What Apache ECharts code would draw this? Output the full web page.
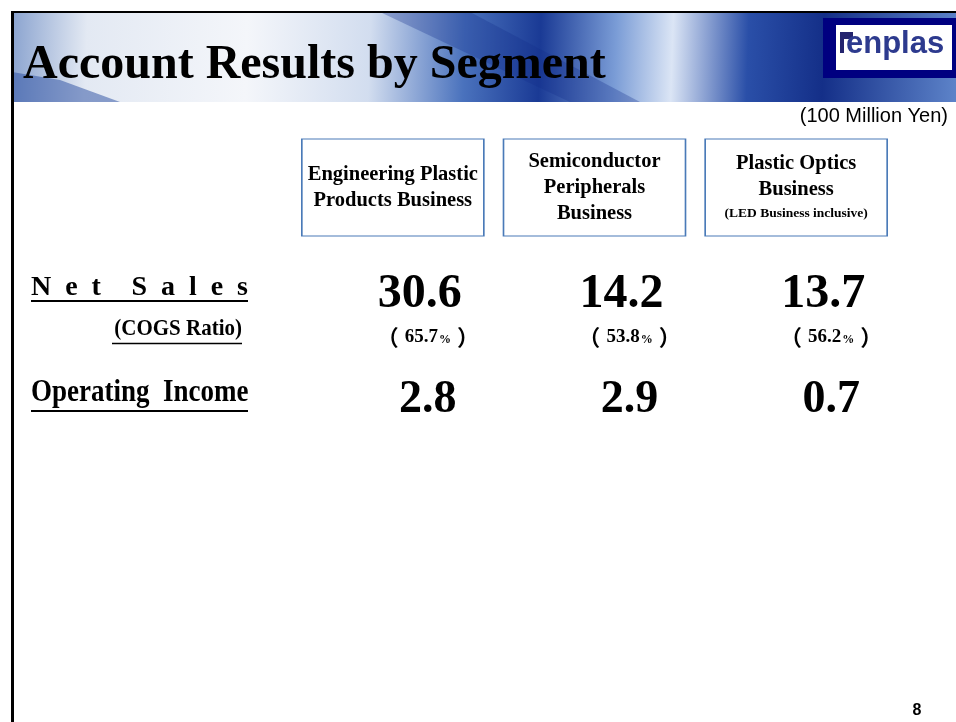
<!DOCTYPE html>
<html>
<head>
	<meta charset="utf-8">
	<title>Account Results by Segment</title>
	<script src="https://cdn.jsdelivr.net/npm/echarts@6/dist/echarts.min.js"></script>
	<style type="text/css">
		*{margin:0;padding:0;}
		body{background:#fff;}
		#main{width:956px;height:722px;}
	</style>
</head>
<body>
	<div id="main"></div>
	<script type="text/javascript">
		// segment data (100 Million Yen)
		var segments = ['Engineering Plastic', 'Semiconductor', 'Plastic Optics'];
		var segmentLabels = [
			'{a|Engineering Plastic}\n{a|Products Business}',
			'{a|Semiconductor}\n{a|Peripherals}\n{a|Business}',
			'{a|Plastic Optics}\n{a|Business}\n{s|(LED Business inclusive)}'
		];
		var netSales = [30.6, 14.2, 13.7];
		var cogsRatio = [65.7, 53.8, 56.2];
		var operatingIncome = [2.8, 2.9, 0.7];

		// layout: vertical centre of each row on the page
		var rowY = {header: 187.5, net: 295, cogs: 337, op: 400};
		var SERIF = '"Liberation Serif", "DejaVu Serif", serif';
		var SANS = '"Liberation Sans", Arial, sans-serif';

		var myChart = echarts.init(document.getElementById('main'));

		// spaced-out "Net Sales" heading
		function spacedText(str, x0, x1, y, size) {
			var c = document.createElement('canvas').getContext('2d');
			c.font = 'bold ' + size + 'px ' + SERIF;
			var chars = str.split('');
			var total = 0;
			chars.forEach(function (ch) {
				if (ch !== ' ') total += c.measureText(ch).width;
			});
			var letters = chars.filter(function (ch) { return ch !== ' '; });
			var gap = (x1 - x0 - total) / (letters.length - 1 + 1.2);
			var out = [], x = x0;
			chars.forEach(function (ch) {
				if (ch === ' ') { x += gap * 1.2; return; }
				out.push({
					type: 'text', x: x, y: y, silent: true,
					style: {text: ch, font: 'bold ' + size + 'px ' + SERIF, fill: '#000', textVerticalAlign: 'bottom'}
				});
				x += c.measureText(ch).width + gap;
			});
			return out;
		}

		var graphics = [
			// header band
			{
				type: 'rect', z: -10, silent: true,
				shape: {x: 12, y: 12, width: 944, height: 90},
				style: {
					fill: new echarts.graphic.LinearGradient(0, 0, 1, 0.35, [
						{offset: 0, color: '#8aa3cf'},
						{offset: 0.08, color: '#e3e9f3'},
						{offset: 0.25, color: '#f4f6fa'},
						{offset: 0.38, color: '#d2ddef'},
						{offset: 0.48, color: '#4a72bd'},
						{offset: 0.56, color: '#1a3a95'},
						{offset: 0.64, color: '#7a9cd6'},
						{offset: 0.7, color: '#dbe5f5'},
						{offset: 0.78, color: '#2a4fa8'},
						{offset: 0.86, color: '#142f88'},
						{offset: 1, color: '#5c82c8'}
					])
				}
			},
			{
				type: 'polygon', z: -9, silent: true,
				shape: {points: [[12, 72], [60, 80], [120, 102], [12, 102]]},
				style: {fill: 'rgba(40,75,160,0.5)'}
			},
			{
				type: 'polygon', z: -9, silent: true,
				shape: {points: [[380, 12], [470, 12], [640, 102], [570, 102]]},
				style: {fill: 'rgba(20,45,140,0.3)'}
			},
			// frame
			{type: 'line', silent: true, shape: {x1: 11, y1: 12, x2: 956, y2: 12}, style: {stroke: '#000', lineWidth: 2}},
			{type: 'line', silent: true, shape: {x1: 12.5, y1: 11, x2: 12.5, y2: 722}, style: {stroke: '#000', lineWidth: 3}},
			// logo
			{
				type: 'rect', silent: true,
				shape: {x: 823, y: 18, width: 133, height: 60},
				style: {fill: '#000080'}
			},
			{
				type: 'rect', silent: true,
				shape: {x: 836, y: 25, width: 116, height: 45},
				style: {fill: '#fff'}
			},
			{
				type: 'rect', silent: true,
				shape: {x: 840, y: 32, width: 13, height: 7},
				style: {fill: '#24246e'}
			},
			{
				type: 'rect', silent: true,
				shape: {x: 840, y: 32, width: 4, height: 21},
				style: {fill: '#24246e'}
			},
			{
				type: 'text', x: 846, y: 60, silent: true,
				style: {text: 'enplas', font: 'bold 31px ' + SANS, fill: '#2d3a8e', textVerticalAlign: 'bottom'}
			},
			// unit
			{
				type: 'text', x: 948, y: 116, silent: true,
				style: {text: '(100 Million Yen)', font: '20px ' + SANS, fill: '#000', textAlign: 'right', textVerticalAlign: 'middle'}
			},
			// row headings
			{type: 'line', silent: true, shape: {x1: 31, y1: 301, x2: 248, y2: 301}, style: {stroke: '#000', lineWidth: 2}},
			{
				type: 'text', x: 242, y: 341, silent: true, scaleY: 1.1,
				style: {text: '(COGS Ratio)', font: 'bold 21px ' + SERIF, fill: '#000', textAlign: 'right', textVerticalAlign: 'bottom'}
			},
			{type: 'line', silent: true, shape: {x1: 112, y1: 343.5, x2: 242, y2: 343.5}, style: {stroke: '#000', lineWidth: 1.5}},
			{
				type: 'text', x: 31, y: 409, silent: true, scaleY: 1.15,
				style: {text: 'Operating  Income', font: 'bold 27px ' + SERIF, fill: '#000', textVerticalAlign: 'bottom'}
			},
			{type: 'line', silent: true, shape: {x1: 31, y1: 411, x2: 248, y2: 411}, style: {stroke: '#000', lineWidth: 2}},
			// page number
			{
				type: 'text', x: 917, y: 711, silent: true,
				style: {text: '8', font: 'bold 16px ' + SANS, fill: '#000', textAlign: 'center', textVerticalAlign: 'middle'}
			}
		].concat(spacedText('Net Sales', 31, 248, 302, 28));

		function row(values, key) {
			return values.map(function (v, i) { return [segments[i], rowY[key], v]; });
		}

		var valueLabel = {
			show: true, position: 'inside', color: '#000',
			fontFamily: SERIF, fontWeight: 'bold'
		};

		var option = {
			animation: false,
			title: {
				text: 'Account Results by Segment',
				left: 18, top: 37,
				textStyle: {fontFamily: SERIF, fontSize: 48, fontWeight: 'bold', color: '#000'}
			},
			grid: {left: 292, right: 59, top: 0, bottom: 0},
			xAxis: {
				type: 'category', data: segments, show: false
			},
			yAxis: {
				type: 'value', min: 0, max: 722, inverse: true, show: false
			},
			graphic: graphics,
			series: [
				{
					name: 'segment', type: 'scatter', silent: true,
					symbol: 'rect', symbolSize: [182, 97],
					itemStyle: {color: '#fff', borderColor: '#4a7ab8', borderWidth: 1.2, opacity: 1},
					label: {
						show: true, position: 'inside',
						formatter: function (p) { return segmentLabels[p.dataIndex]; },
						rich: {
							a: {fontFamily: SERIF, fontSize: 20.5, fontWeight: 'bold', color: '#000', lineHeight: 26, align: 'center'},
							s: {fontFamily: SERIF, fontSize: 13.5, fontWeight: 'bold', color: '#000', lineHeight: 22, align: 'center'}
						}
					},
					data: row([0, 0, 0], 'header')
				},
				{
					name: 'Net Sales', type: 'scatter', silent: true, symbolSize: 0,
					itemStyle: {opacity: 1},
					label: echarts.util.extend({
						offset: [27, 0], fontSize: 48,
						formatter: function (p) { return p.value[2].toFixed(1); }
					}, valueLabel),
					data: row(netSales, 'net')
				},
				{
					name: 'COGS Ratio', type: 'scatter', silent: true, symbolSize: 0,
					itemStyle: {opacity: 1},
					label: {
						show: true, position: 'inside', offset: [35, 0], color: '#000',
						formatter: function (p) { return '{p|（}{n|' + p.value[2].toFixed(1) + '}{c|%}{p|）}'; },
						rich: {
							p: {fontFamily: '"Noto Sans CJK JP", sans-serif', fontSize: 22, fontWeight: 'bold', color: '#000', padding: [0, 6]},
							n: {fontFamily: SERIF, fontSize: 19, fontWeight: 'bold', color: '#000'},
							c: {fontFamily: SERIF, fontSize: 12, fontWeight: 'bold', color: '#000', padding: [5, 0, 0, 1]}
						}
					},
					data: row(cogsRatio, 'cogs')
				},
				{
					name: 'Operating Income', type: 'scatter', silent: true, symbolSize: 0,
					itemStyle: {opacity: 1},
					label: echarts.util.extend({
						offset: [35, 0], fontSize: 46,
						formatter: function (p) { return p.value[2].toFixed(1); }
					}, valueLabel),
					data: row(operatingIncome, 'op')
				}
			]
		};

		myChart.setOption(option);
	</script>
</body>
</html>
